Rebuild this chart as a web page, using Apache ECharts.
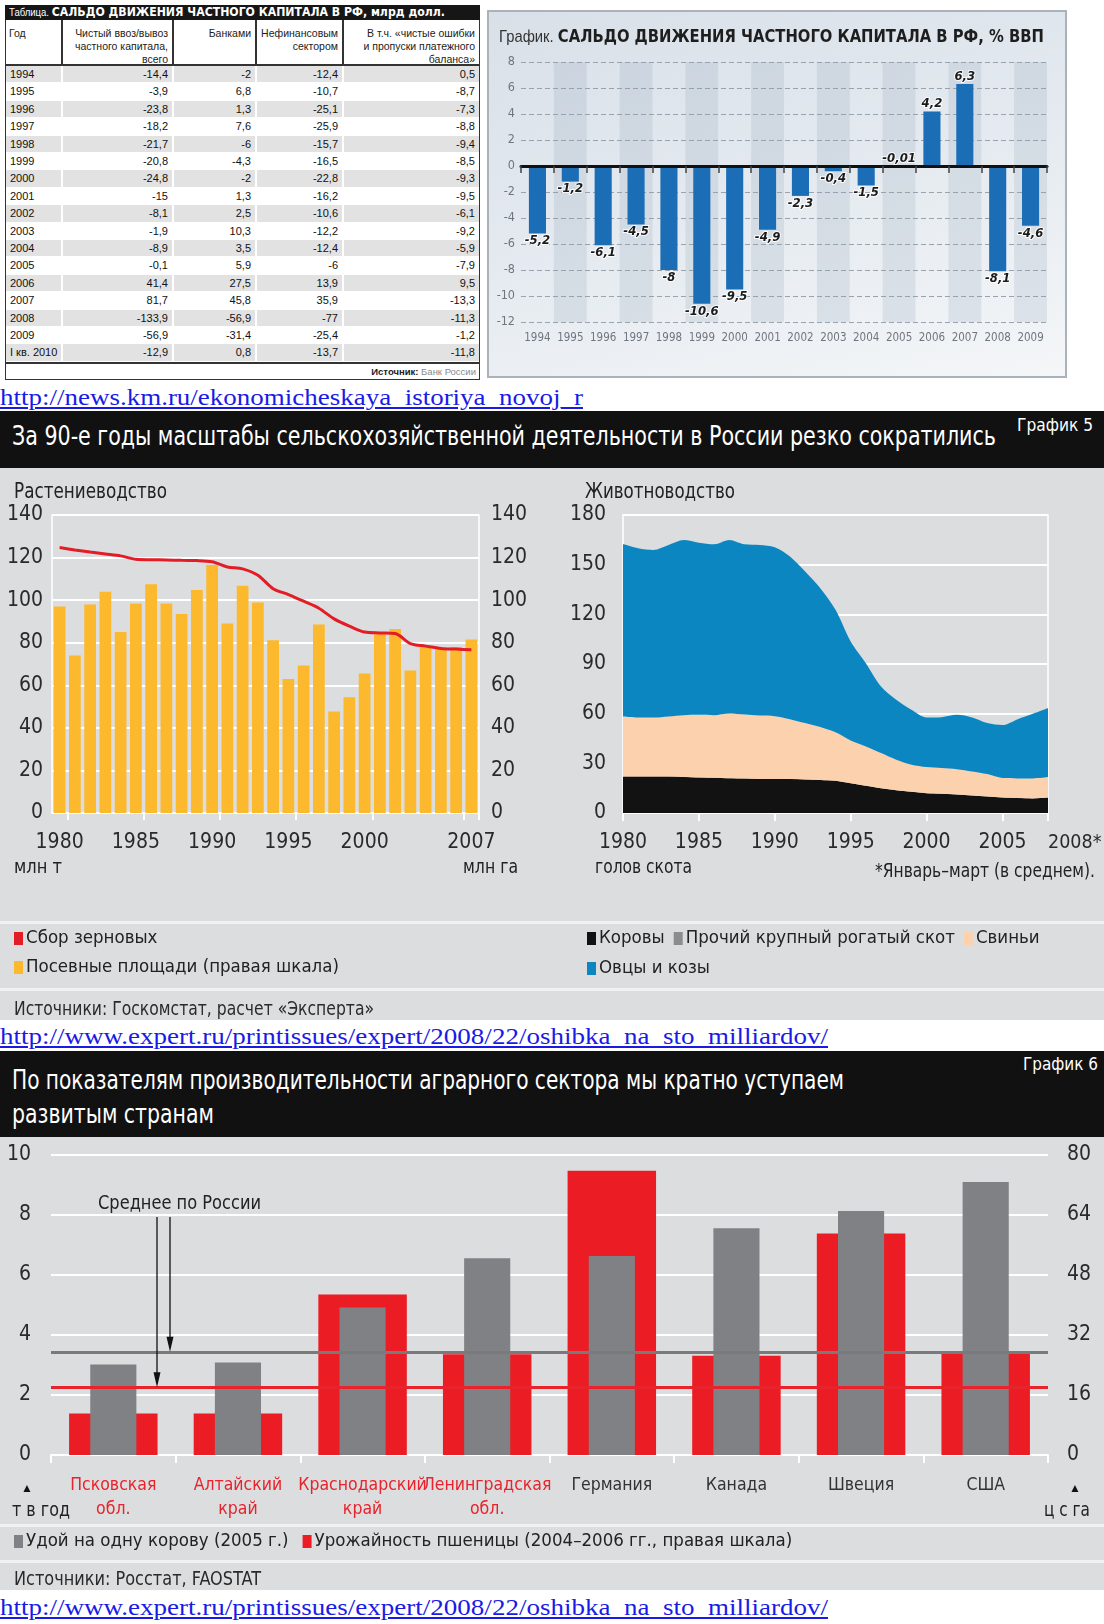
<!DOCTYPE html>
<html lang="ru">
<head>
<meta charset="utf-8">
<title>Сальдо движения частного капитала и сельское хозяйство России</title>
<script src="https://cdn.jsdelivr.net/npm/echarts@6.0.0/dist/echarts.min.js"></script>
<style>
html,body{margin:0;padding:0;background:#fff;}
body{position:relative;width:1104px;height:1624px;overflow:hidden;font-family:'Liberation Sans',Arial,sans-serif;}
.a{position:absolute;}
.t{position:absolute;white-space:nowrap;transform-origin:0 50%;}
.n{font-family:'Liberation Sans Narrow','DejaVu Sans Condensed',sans-serif;}
.url{font-family:'Liberation Serif','Times New Roman',serif;color:#1a1ae6;text-decoration:underline;}
</style>
</head>
<body>
<div id="tbl" class="a" style="left:0;top:0;width:486px;height:384px;"></div>
<div class="a" style="left:487px;top:10px;width:576px;height:364px;border:2px solid #aab2ba;background:linear-gradient(165deg,#d9e0e8 0%,#e3e9ef 45%,#f4f6f8 100%);"></div>
<div id="c1" class="a" style="left:487px;top:10px;width:580px;height:368px;"></div>
<div class="a" style="left:0;top:411px;width:1104px;height:57px;background:#111;"></div>
<div id="c2" class="a" style="left:0;top:468px;width:1104px;height:552px;background:#dcdddf;"></div>
<div class="a" style="left:0;top:1051px;width:1104px;height:86px;background:#111;"></div>
<div id="c3" class="a" style="left:0;top:1137px;width:1104px;height:453px;background:#dcdddf;"></div>
<script>
// ---------------- DATA ----------------
// Table: balance of private capital flows, bn USD
const tableYears = ['1994','1995','1996','1997','1998','1999','2000','2001','2002','2003','2004','2005','2006','2007','2008','2009','I кв. 2010'];
const tableTotal = [-14.4,-3.9,-23.8,-18.2,-21.7,-20.8,-24.8,-15,-8.1,-1.9,-8.9,-0.1,41.4,81.7,-133.9,-56.9,-12.9];
const tableBanks = [-2,6.8,1.3,7.6,-6,-4.3,-2,1.3,2.5,10.3,3.5,5.9,27.5,45.8,-56.9,-31.4,0.8];
const tableNonFin = [-12.4,-10.7,-25.1,-25.9,-15.7,-16.5,-22.8,-16.2,-10.6,-12.2,-12.4,-6,13.9,35.9,-77,-25.4,-13.7];
const tableErrors = [0.5,-8.7,-7.3,-8.8,-9.4,-8.5,-9.3,-9.5,-6.1,-9.2,-5.9,-7.9,9.5,-13.3,-11.3,-1.2,-11.8];
const tableHeaders = ['Год','Чистый ввоз/вывоз\nчастного капитала,\nвсего','Банками','Нефинансовым\nсектором','В т.ч. «чистые ошибки\nи пропуски платежного\nбаланса»'];

// Chart 1: balance, % of GDP
const capYears = ['1994','1995','1996','1997','1998','1999','2000','2001','2002','2003','2004','2005','2006','2007','2008','2009'];
const capGdp = [-5.2,-1.2,-6.1,-4.5,-8,-10.6,-9.5,-4.9,-2.3,-0.4,-1.5,-0.01,4.2,6.3,-8.1,-4.6];

// Chart 2a: crops
const cropYears = ['1980','1981','1982','1983','1984','1985','1986','1987','1988','1989','1990','1991','1992','1993','1994','1995','1996','1997','1998','1999','2000','2001','2002','2003','2004','2005','2006','2007'];
const grainHarvest = [124.7,123.6,122.6,121.7,120.8,119.2,119.0,118.9,118.7,118.6,118.0,115.6,114.7,111.7,105.4,102.6,99.5,96.2,91.2,87.8,85.0,84.6,84.3,79.6,78.4,77.3,77.0,76.7];
const sownArea = [97,74,98,104,85,98.4,107.5,98.4,93.5,104.8,116.5,89,106.8,98.9,81.2,63,69.3,88.5,47.7,54.4,65.5,84.5,86.5,67,78,77,78,81.5];
const xLabels2a = ['1980','1985','1990','1995','2000','2007'];
const xTicks2a = ['1981','1986','1991','1996','2001','2007'];

// Chart 2b: livestock (stacked)
const livestockYears = ['1980','1981','1982','1983','1984','1985','1986','1987','1988','1989','1990','1991','1992','1993','1994','1995','1996','1997','1998','1999','2000','2001','2002','2003','2004','2005','2006','2007','2008'];
const cows = [22.1,22.0,22.0,22.0,21.8,21.5,21.3,21.0,20.8,20.6,20.5,20.5,20.3,20.0,19.5,18.0,16.5,15.0,13.8,12.8,12.0,11.6,11.2,10.6,10.0,9.4,9.0,8.8,9.3];
const otherCattle = [];
const pigs = [36.2,35.7,35.7,36.3,37.3,37.8,37.8,39.1,38.7,38.3,38.0,36.2,34.0,31.9,29.2,25.8,23.7,21.2,18.4,16.4,15.8,15.6,15.3,14.5,13.5,11.7,11.9,12.1,12.4];
const sheepGoats = [104.2,102.2,101.2,103.6,105.8,104.0,103.2,104.8,102.8,103.0,102.0,98.2,91.5,83.9,74.0,59.8,50.3,40.2,36.2,33.1,29.9,30.7,32.8,32.6,30.8,32.0,35.8,39.0,41.7];
const xTicks2b = ['1980','1985','1990','1995','2000','2005','2008'];

// Chart 3: productivity
const regions = ['Псковская\nобл.','Алтайский\nкрай','Краснодарский\nкрай','Ленинградская\nобл.','Германия','Канада','Швеция','США'];
const russianRegions = 4;
const milkYield = [3.02,3.08,4.92,6.56,6.63,7.56,8.13,9.1];
const wheatYield = [11.1,11.1,42.8,26.9,75.8,26.5,59.1,27.4];
const russiaAvgMilk = 3.44;
const russiaAvgWheat = 18.1;

// ---------------- HELPERS ----------------
const NARROW = "'Liberation Sans Narrow','DejaVu Sans Condensed',sans-serif";
const fmt = v => String(v).replace('.', ',');
const fits = [];
function T(html, x, yc, size, w, css) {
  const d = document.createElement('div');
  d.className = 't';
  d.innerHTML = html;
  const h = Math.round(size * 1.3);
  d.style.left = x + 'px';
  d.style.top = (yc - h / 2) + 'px';
  d.style.height = h + 'px';
  d.style.lineHeight = h + 'px';
  d.style.fontSize = size + 'px';
  if (css) d.style.cssText += css;
  document.body.appendChild(d);
  if (w) fits.push([d, w]);
  return d;
}
function doFit() {
  fits.forEach(([d, w]) => {
    d.style.transform = 'none';
    const cw = d.getBoundingClientRect().width;
    if (cw > 0) d.style.transform = 'scaleX(' + (w / cw) + ')';
  });
}
function box(parent, l, t, w, h, css) {
  const d = document.createElement('div');
  d.style.cssText = 'position:absolute;left:' + l + 'px;top:' + t + 'px;width:' + w + 'px;height:' + h + 'px;' + (css || '');
  parent.appendChild(d);
  return d;
}

// ---------------- TABLE ----------------
(function () {
  const tb = document.getElementById('tbl');
  box(tb, 5, 5, 475, 375, 'border:1px solid #333;box-sizing:border-box;background:#fff;');
  box(tb, 5, 5, 475, 15, 'background:#161616;');
  const tt = box(tb, 9, 5, 10, 15, 'white-space:nowrap;color:#fff;line-height:15px;font-size:10px;width:auto;transform-origin:0 50%;');
  tt.innerHTML = 'Таблица. <b style="font-size:11.5px;font-family:\'DejaVu Sans\',sans-serif;">САЛЬДО ДВИЖЕНИЯ ЧАСТНОГО КАПИТАЛА В РФ, млрд долл.</b>';
  fits.push([tt, 436]);
  const cols = [[6, 61], [63, 172], [174, 255], [257, 342], [344, 479]];
  [61, 172, 255, 342].forEach(x => box(tb, x, 20, 1.5, 45, 'background:#333;'));
  box(tb, 5, 64, 475, 1.5, 'background:#333;');
  box(tb, 5, 362, 475, 1.5, 'background:#333;');
  tableHeaders.forEach((h, c) => {
    const [l, r] = cols[c];
    const d = box(tb, l + 3, 26.5, r - l - 7, 40, 'font-size:10.5px;line-height:13px;color:#222;white-space:pre;text-align:' + (c === 0 ? 'left' : 'right') + ';');
    d.textContent = h;
  });
  const rowTop = 66, rowH = 17.4;
  const cells = [tableYears, tableTotal.map(fmt), tableBanks.map(fmt), tableNonFin.map(fmt), tableErrors.map(fmt)];
  tableYears.forEach((y, i) => {
    const top = rowTop + i * rowH;
    cols.forEach(([l, r], c) => {
      const css = 'font-size:11px;line-height:' + (rowH - 1) + 'px;color:#111;white-space:nowrap;box-sizing:border-box;' +
        (c === 0 ? 'text-align:left;padding-left:4px;' : 'text-align:right;padding-right:4px;') +
        (i % 2 === 0 ? 'background:#e2e2e2;' : '');
      const d = box(tb, l, top, r - l, rowH - 1, css);
      d.textContent = cells[c][i];
    });
  });
  const src = box(tb, 250, 365, 226, 14, 'font-size:9.5px;line-height:14px;text-align:right;white-space:nowrap;color:#222;');
  src.innerHTML = '<b>Источник:</b> <span style="color:#8a8a8a">Банк России</span>';
})();

// ---------------- CHART 1 ----------------
const c1 = echarts.init(document.getElementById('c1'));
c1.setOption({
  animation: false,
  textStyle: { fontFamily: NARROW },
  grid: { left: 34, top: 52, width: 526, height: 260, outerBoundsMode: 'none' },
  xAxis: [
    { type: 'category', data: capYears, position: 'bottom', z: 4,
      axisLine: { show: true, onZero: true, lineStyle: { color: '#111', width: 3 } },
      axisTick: { show: true, interval: 0, length: 7, lineStyle: { color: '#444', width: 1.5 } },
      axisLabel: { show: false, interval: 0 }, splitLine: { show: false } },
    { type: 'category', data: capYears, position: 'bottom',
      axisLine: { show: false, onZero: false }, axisTick: { show: false, interval: 0 },
      axisLabel: { show: true, interval: 0, hideOverlap: false, color: '#707680', fontSize: 11.5, margin: 10, fontFamily: NARROW },
      splitArea: { show: true, interval: 0, areaStyle: { color: ['rgba(0,0,0,0)', 'rgba(140,160,180,0.20)'] } } }
  ],
  yAxis: { type: 'value', min: -12, max: 8, interval: 2,
    axisLine: { show: false }, axisTick: { show: false },
    axisLabel: { color: '#707680', fontSize: 12.5, margin: 6, fontFamily: NARROW },
    splitLine: { show: true, lineStyle: { color: '#9aa3ad', type: [5, 3], width: 1 } } },
  series: [{
    type: 'bar', xAxisIndex: 0, yAxisIndex: 0,
    data: capGdp.map(v => ({ value: v, label: { position: v < -0.05 ? 'bottom' : 'top' } })),
    barWidth: '52%', itemStyle: { color: '#1b6db6' },
    label: { show: true, distance: 1, formatter: p => fmt(p.value), fontStyle: 'italic', fontWeight: 'bold',
      fontSize: 13, color: '#1a1a1a', fontFamily: NARROW, textBorderColor: 'rgba(255,255,255,0.85)', textBorderWidth: 2 }
  }]
});

// ---------------- CHART 2 ----------------
const c2 = echarts.init(document.getElementById('c2'));
const axisTxt = { fontSize: 21, color: '#2a2a2a', fontFamily: NARROW };
const lt2b = (i) => xTicks2b.indexOf(livestockYears[i]) >= 0;
const legTxt = { fontSize: 18.5, color: '#222', fontFamily: NARROW, padding: [0, 0, 0, -2] };
c2.setOption({
  animation: false,
  textStyle: { fontFamily: NARROW },
  grid: [
    { left: 52, top: 47, width: 427, height: 298, outerBoundsMode: 'none' },
    { left: 623, top: 47, width: 425, height: 298, show: true, borderColor: '#fff', borderWidth: 1.5, backgroundColor: 'transparent', outerBoundsMode: 'none' }
  ],
  xAxis: [
    { gridIndex: 0, type: 'category', data: cropYears,
      axisLine: { show: true, lineStyle: { color: '#fff', width: 2 } },
      axisTick: { show: true, interval: (i) => xTicks2a.indexOf(cropYears[i]) >= 0, length: 7, lineStyle: { color: '#fff', width: 2 } },
      axisLabel: Object.assign({ interval: (i) => xLabels2a.indexOf(cropYears[i]) >= 0, hideOverlap: false, margin: 18, lineHeight: 24 }, axisTxt) },
    { gridIndex: 1, type: 'category', boundaryGap: false, data: livestockYears,
      axisLine: { show: false },
      axisTick: { show: true, interval: (i) => lt2b(i), length: 8, lineStyle: { color: '#fff', width: 2 } },
      axisLabel: Object.assign({ interval: (i) => lt2b(i), hideOverlap: false, showMaxLabel: true, alignMaxLabel: 'left', margin: 18, lineHeight: 24,
        formatter: (v, i) => i === livestockYears.length - 1 ? '{s|' + v + '*}' : v,
        rich: { s: { fontSize: 19.5, color: '#2a2a2a', fontFamily: NARROW, lineHeight: 24 } } }, axisTxt) }
  ],
  yAxis: [
    { gridIndex: 0, type: 'value', min: 0, max: 140, interval: 20,
      axisLine: { show: true, lineStyle: { color: '#fff', width: 1.5 } }, axisTick: { show: false },
      axisLabel: Object.assign({ margin: 9 }, axisTxt),
      splitLine: { show: true, lineStyle: { color: '#fff', width: 2 } } },
    { gridIndex: 0, type: 'value', position: 'right', min: 0, max: 140, interval: 20,
      axisLine: { show: true, lineStyle: { color: '#fff', width: 1.5 } }, axisTick: { show: false },
      axisLabel: Object.assign({ margin: 12 }, axisTxt), splitLine: { show: false } },
    { gridIndex: 1, type: 'value', min: 0, max: 180, interval: 30,
      axisLine: { show: false }, axisTick: { show: false },
      axisLabel: Object.assign({ margin: 17 }, axisTxt),
      splitLine: { show: true, lineStyle: { color: '#fff', width: 2 } } }
  ],
  legend: [
    { data: ['Сбор зерновых', 'Посевные площади (правая шкала)'], orient: 'vertical', left: 14, top: 461, itemGap: 10,
      icon: 'rect', itemWidth: 9, itemHeight: 13, padding: 0, selectedMode: false, textStyle: legTxt },
    { data: ['Коровы', 'Прочий крупный рогатый скот', 'Свиньи'], orient: 'horizontal', left: 587, top: 461, itemGap: 9,
      icon: 'rect', itemWidth: 9, itemHeight: 13, padding: 0, selectedMode: false, textStyle: legTxt },
    { data: ['Овцы и козы'], orient: 'horizontal', left: 587, top: 491, itemGap: 9,
      icon: 'rect', itemWidth: 9, itemHeight: 13, padding: 0, selectedMode: false, textStyle: legTxt }
  ],
  graphic: [
    { type: 'rect', shape: { x: 0, y: 453, width: 1104, height: 3 }, style: { fill: '#f1f1f1' } },
    { type: 'rect', shape: { x: 0, y: 520, width: 1104, height: 3 }, style: { fill: '#f1f1f1' } }
  ],
  series: [
    { name: 'Посевные площади (правая шкала)', type: 'bar', xAxisIndex: 0, yAxisIndex: 1, data: sownArea,
      barWidth: '77%', itemStyle: { color: '#fdb92e' } },
    { name: 'Сбор зерновых', type: 'line', xAxisIndex: 0, yAxisIndex: 0, data: grainHarvest, symbol: 'none', smooth: 0.3,
      z: 4, lineStyle: { color: '#e31d25', width: 3 }, itemStyle: { color: '#e31d25' } },
    { name: 'Коровы', type: 'line', xAxisIndex: 1, yAxisIndex: 2, stack: 'herd', data: cows, symbol: 'none', smooth: 0.3,
      lineStyle: { width: 0 }, areaStyle: { color: '#121212', opacity: 1 }, itemStyle: { color: '#121212' } },
    { name: 'Прочий крупный рогатый скот', type: 'line', xAxisIndex: 1, yAxisIndex: 2, stack: 'herd', data: otherCattle, symbol: 'none',
      lineStyle: { width: 0 }, areaStyle: { color: '#8c8c8c', opacity: 1 }, itemStyle: { color: '#8c8c8c' } },
    { name: 'Свиньи', type: 'line', xAxisIndex: 1, yAxisIndex: 2, stack: 'herd', data: pigs, symbol: 'none', smooth: 0.3,
      lineStyle: { width: 0 }, areaStyle: { color: '#fbd1ae', opacity: 1 }, itemStyle: { color: '#fbd1ae' } },
    { name: 'Овцы и козы', type: 'line', xAxisIndex: 1, yAxisIndex: 2, stack: 'herd', data: sheepGoats, symbol: 'none', smooth: 0.3,
      lineStyle: { width: 0 }, areaStyle: { color: '#0b86c1', opacity: 1 }, itemStyle: { color: '#0b86c1' } }
  ]
});

// ---------------- CHART 3 ----------------
const c3 = echarts.init(document.getElementById('c3'));
const catFmt = (v, i) => {
  const tag = i < russianRegions ? 'r' : 'g';
  return v.split('\n').map(s => '{' + tag + '|' + s + '}').join('\n');
};
const milkName = 'Удой на одну корову (2005 г.)';
const wheatName = 'Урожайность пшеницы (2004–2006 гг., правая шкала)';
c3.setOption({
  animation: false,
  textStyle: { fontFamily: NARROW },
  grid: { left: 51, top: 18, width: 997, height: 300, outerBoundsMode: 'none' },
  xAxis: [
    { type: 'category', data: regions, position: 'bottom',
      axisLine: { show: true, lineStyle: { color: '#fff', width: 2 } },
      axisTick: { show: true, length: 8, lineStyle: { color: '#fff', width: 2 } },
      axisLabel: { margin: 18, interval: 0, hideOverlap: false, formatter: catFmt,
        rich: { r: { color: '#e8232b', fontSize: 17.5, lineHeight: 24, fontFamily: NARROW },
                g: { color: '#333', fontSize: 17.5, lineHeight: 24, fontFamily: NARROW } } } },
    { type: 'category', data: regions, position: 'bottom', show: false }
  ],
  yAxis: [
    { type: 'value', min: 0, max: 10, interval: 2, axisLine: { show: false }, axisTick: { show: false },
      axisLabel: { fontSize: 21, color: '#2a2a2a', margin: 20, fontFamily: NARROW },
      splitLine: { show: true, lineStyle: { color: '#fff', width: 2 } } },
    { type: 'value', min: 0, max: 80, interval: 16, position: 'right', axisLine: { show: false }, axisTick: { show: false },
      axisLabel: { fontSize: 21, color: '#2a2a2a', margin: 19, fontFamily: NARROW },
      splitLine: { show: false } }
  ],
  legend: { data: [milkName, wheatName], left: 14, top: 395, itemGap: 14, icon: 'rect', itemWidth: 9, itemHeight: 13,
    padding: 0, selectedMode: false, textStyle: { fontSize: 18.5, color: '#222', fontFamily: NARROW, padding: [0, 0, 0, -2] } },
  series: [
    { name: wheatName, type: 'bar', xAxisIndex: 1, yAxisIndex: 1, data: wheatYield, barWidth: '71%', itemStyle: { color: '#ec1c24' } },
    { name: milkName, type: 'bar', xAxisIndex: 0, yAxisIndex: 0, data: milkYield, barWidth: '37%', itemStyle: { color: '#808184' } },
    { name: 'avgWheat', type: 'line', xAxisIndex: 1, yAxisIndex: 1, data: [], z: 10, silent: true,
      markLine: { silent: true, symbol: 'none', label: { show: false }, lineStyle: { color: '#e8232b', width: 3, type: 'solid' },
        data: [{ yAxis: russiaAvgWheat }] } },
    { name: 'avgMilk', type: 'line', xAxisIndex: 0, yAxisIndex: 0, data: [], z: 10, silent: true,
      markLine: { silent: true, symbol: 'none', label: { show: false }, lineStyle: { color: '#7a7a7c', width: 3, type: 'solid' },
        data: [{ yAxis: russiaAvgMilk }] } }
  ]
});
(function () {
  const yRed = c3.convertToPixel({ yAxisIndex: 1 }, russiaAvgWheat);
  const yGray = c3.convertToPixel({ yAxisIndex: 0 }, russiaAvgMilk);
  const arrow = (x, y0, y1) => [
    { type: 'line', shape: { x1: x, y1: y0, x2: x, y2: y1 - 12 }, style: { stroke: '#111', lineWidth: 1.3 }, z: 20 },
    { type: 'polygon', shape: { points: [[x - 3.5, y1 - 15], [x + 3.5, y1 - 15], [x, y1]] }, style: { fill: '#111' }, z: 20 }
  ];
  c3.setOption({ graphic: [
    { type: 'rect', shape: { x: 0, y: 387, width: 1104, height: 3 }, style: { fill: '#f1f1f1' } },
    { type: 'rect', shape: { x: 0, y: 423, width: 1104, height: 3 }, style: { fill: '#f1f1f1' } }
  ].concat(arrow(157, 80, yRed), arrow(170, 80, yGray)) });
})();

// ---------------- TEXTS ----------------
T('<span style="font-size:17px;color:#333">График.</span> <b style="font-family:\'DejaVu Sans\',sans-serif;color:#1e1e1e">САЛЬДО ДВИЖЕНИЯ ЧАСТНОГО КАПИТАЛА В РФ, % ВВП</b>', 499, 36, 17, 545, '');
T('http://news.km.ru/ekonomicheskaya_istoriya_novoj_r', 0, 397, 24, 583, '').className = 't url';
T('За 90-е годы масштабы сельскохозяйственной деятельности в России резко сократились', 12, 436, 26, 984, 'color:#fff;').classList.add('n');
T('График 5', 1017, 425, 17, 76, 'color:#fff;').classList.add('n');
T('Растениеводство', 14, 490, 22, 153, 'color:#222;').classList.add('n');
T('Животноводство', 585, 490, 22, 150, 'color:#222;').classList.add('n');
T('млн т', 14, 866, 19, 48, 'color:#222;').classList.add('n');
T('млн га', 463, 866, 19, 55, 'color:#222;').classList.add('n');
T('голов скота', 595, 866, 19, 97, 'color:#222;').classList.add('n');
T('*Январь–март (в среднем).', 875, 870, 19, 220, 'color:#222;').classList.add('n');
T('Источники: Госкомстат, расчет «Эксперта»', 14, 1008, 19, 360, 'color:#2a2a2a;').classList.add('n');
T('http://www.expert.ru/printissues/expert/2008/22/oshibka_na_sto_milliardov/', 0, 1036, 24, 828, '').className = 't url';
T('По показателям производительности аграрного сектора мы кратно уступаем', 12, 1080, 26, 832, 'color:#fff;').classList.add('n');
T('развитым странам', 12, 1114, 26, 202, 'color:#fff;').classList.add('n');
T('График 6', 1023, 1064, 17, 75, 'color:#fff;').classList.add('n');
T('Среднее по России', 98, 1202, 20, 163, 'color:#222;').classList.add('n');
T('▲', 21, 1488, 12, 0, 'color:#111;');
T('т в год', 12, 1509, 20, 58, 'color:#222;').classList.add('n');
T('▲', 1069, 1488, 12, 0, 'color:#111;');
T('ц с га', 1044, 1509, 20, 46, 'color:#222;').classList.add('n');
T('Источники: Росстат, FAOSTAT', 14, 1578, 19, 247, 'color:#2a2a2a;').classList.add('n');
T('http://www.expert.ru/printissues/expert/2008/22/oshibka_na_sto_milliardov/', 0, 1607, 24, 828, '').className = 't url';

doFit();
if (document.fonts && document.fonts.ready) document.fonts.ready.then(doFit);
window.addEventListener('load', doFit);
</script>
</body>
</html>
